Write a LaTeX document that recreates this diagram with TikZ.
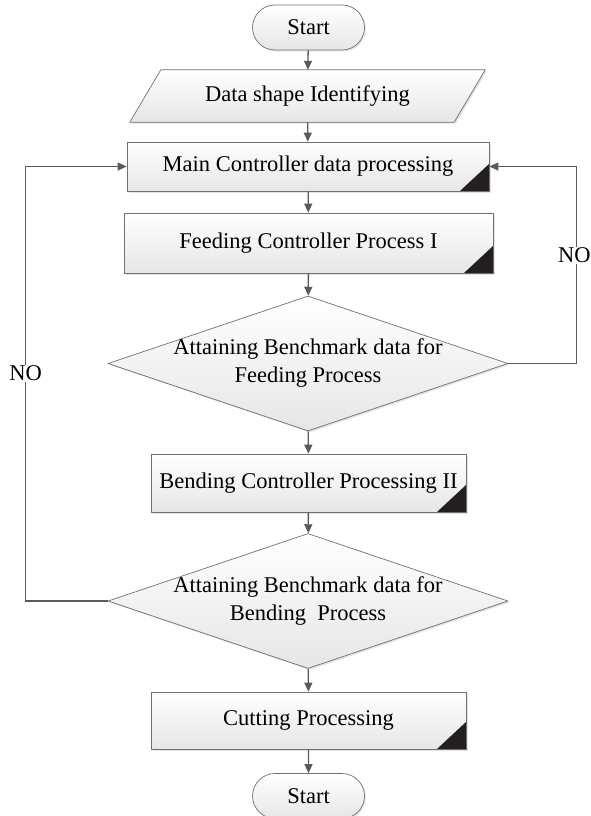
\documentclass[tikz,border=0pt]{standalone}
\usepackage{fontspec}
\setmainfont{Liberation Serif}
\usetikzlibrary{arrows.meta}
\usetikzlibrary{shapes}
\usetikzlibrary{shadows}
\usetikzlibrary{backgrounds}
\definecolor{linegray}{RGB}{90,90,90}
\definecolor{edgegray}{RGB}{112,112,112}
\definecolor{fillgray}{RGB}{230,230,230}
\definecolor{cornerblack}{RGB}{35,31,32}
\tikzset{
	align=center,
	every node/.style={font=\fontsize{22.5}{28}\selectfont},
	box/.style={
		draw=edgegray,
		line width=0.7pt,
		top color=white,
		bottom color=fillgray,
		drop shadow={shadow xshift=1.5pt,shadow yshift=-1.5pt,fill=black!22},
	},
	term/.style={
		box,
		rounded rectangle,
		minimum width=112pt,
		minimum height=45pt,
		inner sep=0pt,
	},
	io/.style={
		rectangle,
		minimum width=324pt,
		minimum height=52pt,
		inner sep=0pt,
	},
	proc/.style={
		box,
		rectangle,
		inner sep=0pt,
		path picture={
			\fill[cornerblack] (path picture bounding box.south east)
				-- ++(-29pt,0pt) -- ++(29pt,27pt) -- cycle;
		},
	},
	decision/.style={
		box,
		diamond,
		aspect=2.96,
		inner sep=-8pt,
		minimum width=400pt,
		minimum height=135pt,
	},
	flow/.style={
		draw=linegray,
		line width=1.3pt,
		-{Triangle[length=9pt,width=8pt]}
	},
	nolabel/.style={fill=white, inner sep=1pt},
}

\begin{document}
\begin{tikzpicture}[x=1pt,y=-1pt]
	\useasboundingbox (0,0) rectangle (590,816);

	\node[term] (start) at (308.5,27.5) {Start};
	\node[io] (shape) at (307.5,96) {Data shape Identifying};
	\node[proc, minimum width=362pt, minimum height=49pt] (main) at (308,166.5) {Main Controller data processing};
	\node[proc, minimum width=369pt, minimum height=60pt] (feed) at (308.5,243) {Feeding Controller Process I};
	\node[decision] (chkfeed) at (308,363.5) {Attaining Benchmark data for\\Feeding Process};
	\node[proc, minimum width=315pt, minimum height=58pt] (bend) at (308.5,483) {Bending Controller Processing II};
	\node[decision] (chkbend) at (308,601) {Attaining Benchmark data for\\Bending\ \ Process};
	\node[proc, minimum width=315pt, minimum height=57pt] (cut) at (308.5,720.5) {Cutting Processing};
	\node[term] (stop) at (308.5,796) {Start};

	% slanted outline of the data input
	\begin{scope}[on background layer]
		\draw[box] ([xshift=15.5pt]shape.north west) -- ([xshift=15.5pt]shape.north east)
			-- ([xshift=-15.5pt]shape.south east) -- ([xshift=-15.5pt]shape.south west) -- cycle;
	\end{scope}

	\draw[flow] (start) -- (shape);
	\draw[flow] (shape) -- (main);
	\draw[flow] (main) -- (feed);
	\draw[flow] (feed) -- (chkfeed);
	\draw[flow] (chkfeed) -- (bend);
	\draw[flow] (bend) -- (chkbend);
	\draw[flow] (chkbend) -- (cut);
	\draw[flow] (cut) -- (stop);

	% NO branches back to the main controller
	\draw[flow] (chkfeed.east) -- ++(68,0) |- node[nolabel, pos=0.275, xshift=-2pt] (noright) {NO} (main.east);
	\draw[flow] (chkbend.west) -- ++(-82,0) |- node[nolabel, pos=0.262] (noleft) {NO} (main.west);

\end{tikzpicture}
\end{document}
